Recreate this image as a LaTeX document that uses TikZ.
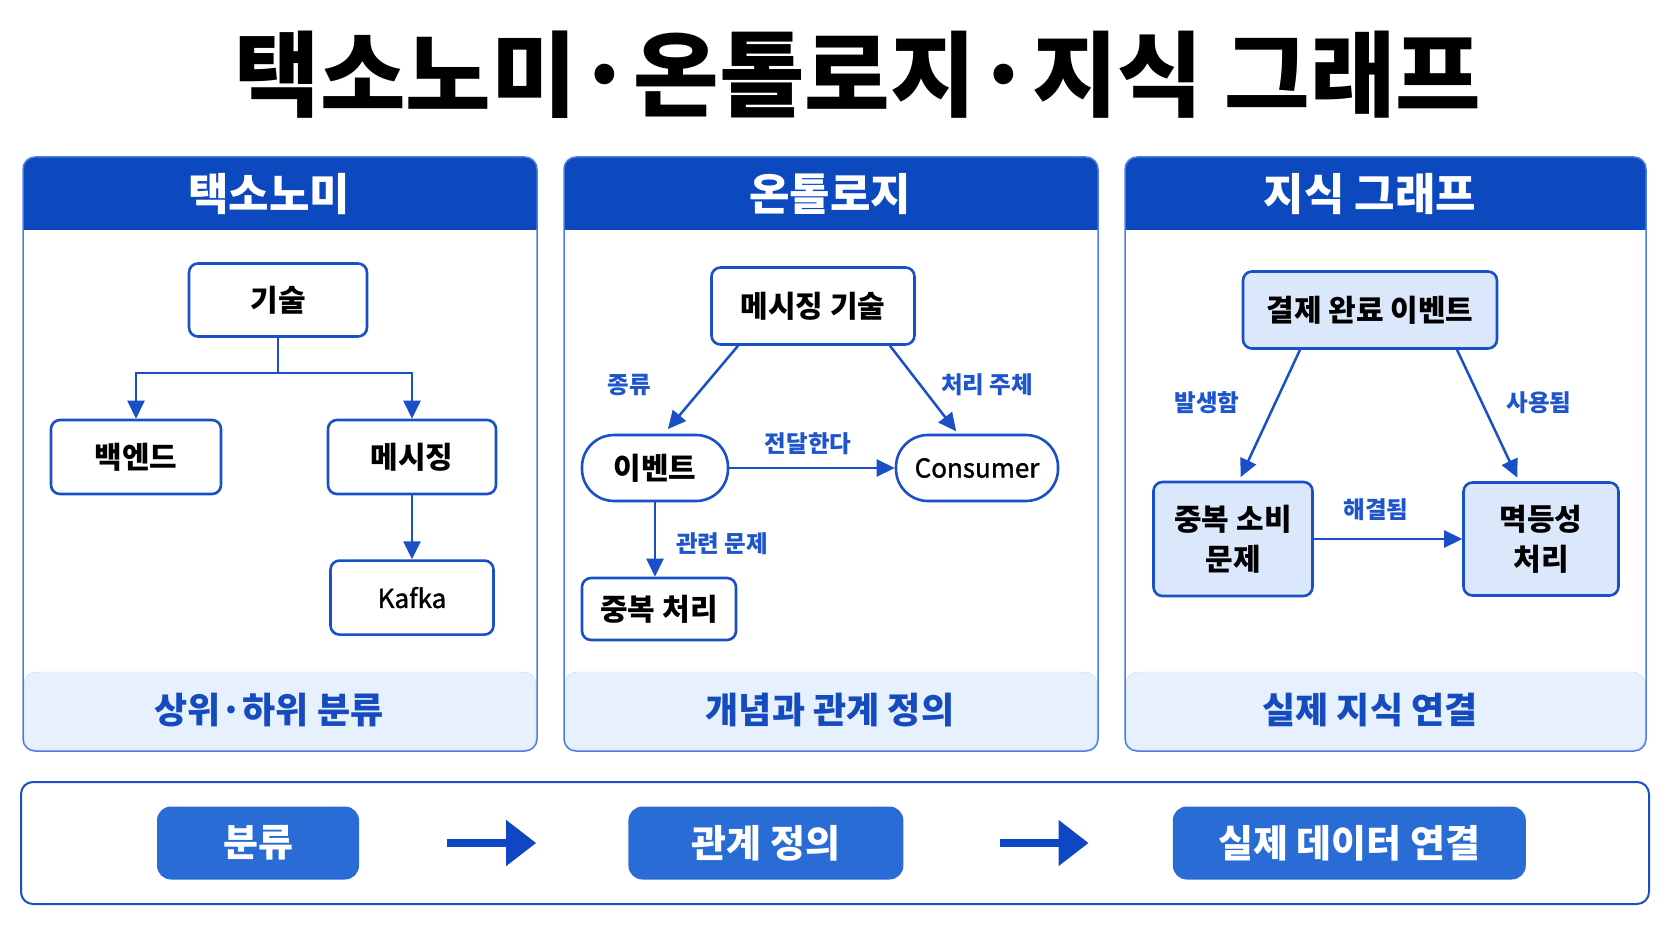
\documentclass[tikz,border=0pt]{standalone}
\usepackage{fontspec}
\setmainfont{Noto Sans CJK KR}
\IfFontExistsTF{Noto Sans CJK KR Black}{\newfontfamily\heavyfont{Noto Sans CJK KR Black}}{\newcommand\heavyfont{\bfseries}}
\newfontfamily\latinfont{Noto Sans CJK KR}[FakeBold=1.4]
\usetikzlibrary{arrows.meta,positioning}

\definecolor{hdrblue}{RGB}{12,72,190}
\definecolor{edgeblue}{RGB}{25,80,200}
\definecolor{lblblue}{RGB}{30,85,205}
\definecolor{ftblue}{RGB}{20,75,190}
\definecolor{ftfill}{RGB}{231,240,253}
\definecolor{ftline}{RGB}{200,215,240}
\definecolor{kfill}{RGB}{219,232,251}
\definecolor{pillblue}{RGB}{42,108,214}
\definecolor{panelline}{RGB}{75,125,225}
\definecolor{arrblue}{RGB}{15,70,195}

\tikzset{
  box/.style={draw=edgeblue, line width=2.6pt, rounded corners=9pt, fill=white, text=black,
              font=\bfseries\fontsize{30}{40}\selectfont, align=center, inner sep=0pt},
  latin/.style={font=\latinfont\fontsize{26}{32}\selectfont},
  pillbox/.style={box, rounded corners=32pt},
  kbox/.style={box, fill=kfill},
  lbl/.style={text=lblblue, font=\bfseries\fontsize{23.5}{28}\selectfont},
  arr/.style={draw=edgeblue, line width=2.5pt, -{Triangle[length=18pt,width=17pt]}},
  hdtext/.style={text=white, font=\heavyfont\fontsize{44}{48}\selectfont},
  fttext/.style={text=ftblue, font=\heavyfont\fontsize{36}{40}\selectfont},
  flowpill/.style={fill=pillblue, rounded corners=14pt, minimum height=73pt, inner sep=0pt,
                   text=white, font=\heavyfont\fontsize{38}{42}\selectfont},
  bigarr/.style={draw=arrblue, line width=8pt, -{Triangle[length=30pt,width=44pt]}}
}

\begin{document}
\begin{tikzpicture}[x=1pt,y=-1pt]
  \fill[white] (0,0) rectangle (1672,941);
  \useasboundingbox (0,0) rectangle (1672,941);

  \node[font=\heavyfont\fontsize{93}{100}\selectfont] (title) at (858,75) {택소노미·온톨로지·지식 그래프};

  % three panels
  \foreach \xa/\xb/\xm/\hd/\ft/\nm in {23/537/269/택소노미/상위·하위 분류/a,
                                       564/1098/830/온톨로지/개념과 관계 정의/b,
                                       1125/1646/1370/지식 그래프/실제 지식 연결/c}{
    \draw[ftline, fill=ftfill, rounded corners=12pt] (\xa+1,672) rectangle (\xb-1,750);
    \fill[hdrblue] (\xa,230) [rounded corners=12pt] -- (\xa,157) -- (\xb,157) [sharp corners] -- (\xb,230) -- cycle;
    \draw[panelline, line width=1.5pt, rounded corners=12pt] (\xa,157) rectangle (\xb,751);
    \node[hdtext] (hd\nm) at (\xm,194) {\hd};
    \node[fttext] (ft\nm) at (\xm,710) {\ft};
  }

  % taxonomy
  \node[box, minimum width=178pt, minimum height=73pt] (tech) at (278,300) {기술};
  \node[box, minimum width=170pt, minimum height=74pt] (backend) at (136,457) {백엔드};
  \node[box, minimum width=168pt, minimum height=74pt] (msg) at (412,457) {메시징};
  \node[box, latin, minimum width=163pt, minimum height=74pt, below=64pt of msg] (kafka) {Kafka};
  \draw[arr] (tech.south) -- ++(0,35) -| (backend);
  \draw[arr] (tech.south) -- ++(0,35) -| (msg);
  \draw[arr] (msg) -- (kafka);

  % ontology
  \node[box, minimum width=203pt, minimum height=77pt] (msgtech) at (813,306) {메시징 기술};
  \node[pillbox, minimum width=146pt, minimum height=66pt] (event) at (655,468) {이벤트};
  \node[pillbox, latin, minimum width=162pt, minimum height=66pt] (consumer) at (977,468) {Consumer};
  \node[box, minimum width=154pt, minimum height=62pt] (dedup) at (659,609) {중복 처리};
  \draw[arr, shorten >=6pt] ([xshift=-75pt]msgtech.south) -- ([xshift=9pt]event.north);
  \draw[arr, shorten >=3pt] ([xshift=77pt]msgtech.south) -- ([xshift=-19pt]consumer.north);
  \draw[arr] (event) -- (consumer);
  \draw[arr] (event.south) -- (event.south |- dedup.north);
  \node[lbl] (lkind) at (629,385) {종류};
  \node[lbl] (lproc) at (987,385) {처리 주체};
  \node[lbl] (lsend) at (808,444) {전달한다};
  \node[lbl] (lrel) at (722,544) {관련 문제};

  % knowledge graph
  \node[kbox, minimum width=254pt, minimum height=77pt] (pay) at (1370,310) {결제 완료 이벤트};
  \node[kbox, minimum width=159pt, minimum height=114pt] (dup) at (1233,539) {중복 소비\\문제};
  \node[kbox, minimum width=155pt, minimum height=113pt] (idem) at (1541,539) {멱등성\\처리};
  \draw[arr, shorten >=4pt] ([xshift=-70pt]pay.south) -- ([xshift=6pt]dup.north);
  \draw[arr, shorten >=4pt] ([xshift=87pt]pay.south) -- ([xshift=-22pt]idem.north);
  \draw[arr] (dup) -- (idem);
  \node[lbl] (lhappen) at (1207,403) {발생함};
  \node[lbl] (lused) at (1539,403) {사용됨};
  \node[lbl] (lsolve) at (1376,510) {해결됨};

  % flow bar
  \draw[edgeblue, line width=2pt, rounded corners=12pt] (21,782) rectangle (1649,904);
  \node[flowpill, minimum width=202pt] (cls) at (258,843) {분류};
  \node[flowpill, minimum width=275pt, right=269pt of cls] (rel) {관계 정의};
  \node[flowpill, minimum width=353pt, right=269pt of rel] (data) {실제 데이터 연결};
  \draw[bigarr, shorten <=88pt, shorten >=92pt] (cls) -- (rel);
  \draw[bigarr, shorten <=96pt, shorten >=84pt] (rel) -- (data);
\end{tikzpicture}
\end{document}
